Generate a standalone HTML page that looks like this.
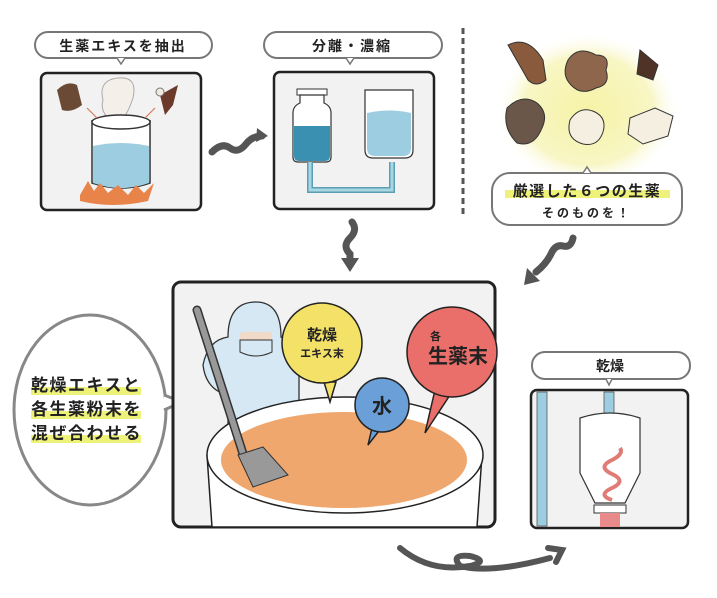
<!DOCTYPE html>
<html><head><meta charset="utf-8"><style>
html,body{margin:0;padding:0;background:#fff;}
svg{display:block;}
text{font-family:"Liberation Sans","Noto Sans CJK JP",sans-serif;font-weight:bold;fill:#222;}
</style></head><body>
<svg width="717" height="598" viewBox="0 0 717 598" xmlns="http://www.w3.org/2000/svg">
<defs>
<radialGradient id="glow" cx="50%" cy="50%" r="50%">
<stop offset="0" stop-color="#f6f3a6"/><stop offset="0.7" stop-color="#f8f6c4"/><stop offset="1" stop-color="#fff" stop-opacity="0"/>
</radialGradient>
</defs>
<!-- Label 1 -->
<rect x="35" y="32" width="177" height="26" rx="13" fill="#fff" stroke="#777" stroke-width="2"/>
<path d="M117 58 l4 6 l4 -6" fill="#fff" stroke="#777" stroke-width="1.5"/>
<text x="123" y="51" font-size="14" text-anchor="middle" letter-spacing="2">生薬エキスを抽出</text>
<!-- Panel 1 -->
<rect x="41" y="73" width="160" height="137" rx="6" fill="#f2f2f2" stroke="#222" stroke-width="2.5"/>
<path d="M103 100 q-5 -20 15 -22 q20 -2 15 20 q-5 15 -10 20 h-15 q-8 -8 -5 -18z" fill="#f5efea" stroke="#aaa" stroke-width="1"/>
<path d="M92 120 v63 q30 10 58 0 v-63" fill="#fff" stroke="#333" stroke-width="1.5"/>
<ellipse cx="121" cy="122" rx="29" ry="7" fill="#fff" stroke="#333" stroke-width="1.5"/>
<path d="M93 146 q28 -6 56 0 v37 q-28 10 -56 0z" fill="#9ccde0"/>
<path d="M80 195 l8 -14 l6 10 l6 -8 l8 10 l10 -8 l10 10 l8 -10 l8 8 l10 -10 l-6 18 q-35 8 -68 0z" fill="#e8844a"/>
<path d="M57 90 q10 -10 20 -5 l5 20 q-10 8 -20 5 z" fill="#6b4a35"/>
<path d="M160 95 l18 -10 l-5 20 l-8 10 z" fill="#6b3a2a"/>
<circle cx="160" cy="92" r="4" fill="#f0eadf" stroke="#777"/>
<path d="M87 108 l10 10 M155 108 l-10 10" stroke="#d97a5a" stroke-width="1.2"/>
<!-- Arrow 1 -->
<path d="M212 152 q10 -10 18 -4 q8 6 16 -4 q6 -8 16 -8" fill="none" stroke="#555" stroke-width="7" stroke-linecap="round"/>
<path d="M257 128 l11 8 l-12 6z" fill="#555"/>
<!-- Label 2 -->
<rect x="264" y="32" width="178" height="26" rx="13" fill="#fff" stroke="#777" stroke-width="2"/>
<path d="M346 58 l4 6 l4 -6" fill="#fff" stroke="#777" stroke-width="1.5"/>
<text x="352" y="51" font-size="14" text-anchor="middle" letter-spacing="2">分離・濃縮</text>
<!-- Panel 2 -->
<rect x="274" y="72" width="160" height="137" rx="6" fill="#f2f2f2" stroke="#222" stroke-width="2.5"/>
<rect x="297" y="89" width="30" height="6" fill="#fff" stroke="#333"/>
<path d="M300 95 v8 q-7 3 -7 10 v44 q0 5 5 5 h28 q5 0 5 -5 v-44 q0 -7 -7 -10 v-8z" fill="#fff" stroke="#333" stroke-width="1.2"/>
<path d="M294 126 h36 v30 q0 5 -5 5 h-26 q-5 0 -5 -5z" fill="#3a90b0"/>
<path d="M365 90 h48 v60 q0 8 -8 8 h-32 q-8 0 -8 -8z" fill="#fff" stroke="#333" stroke-width="1.2"/>
<path d="M367 113 q22 -5 44 0 v35 q0 8 -8 8 h-28 q-8 0 -8 -8z" fill="#9ccde0"/>
<path d="M310 162 v28 h82 v-28" fill="none" stroke="#5c9fb5" stroke-width="6"/>
<path d="M310 162 v28 h82 v-28" fill="none" stroke="#a9d6e3" stroke-width="3"/>
<!-- dashed line -->
<line x1="463" y1="28" x2="463" y2="215" stroke="#555" stroke-width="3" stroke-dasharray="6 4"/>
<!-- herbs -->
<ellipse cx="588" cy="110" rx="92" ry="78" fill="url(#glow)"/>
<path d="M508 45 q20 -10 35 15 l3 20 q-10 8 -18 0 z" fill="#8a5a3c" stroke="#333"/>
<path d="M568 60 q10 -15 28 -5 q15 0 10 15 q5 15 -10 18 q-15 8 -25 -3 q-10 -10 -3 -25z" fill="#8d664b" stroke="#333"/>
<path d="M640 50 l18 15 l-5 15 l-16 -6 z" fill="#4e3326" stroke="#333"/>
<path d="M507 108 q15 -15 30 -5 q12 10 5 25 q-8 20 -25 15 q-15 -15 -10 -35z" fill="#6a574a" stroke="#333"/>
<path d="M570 120 q10 -15 25 -8 q12 6 8 20 q-5 15 -20 12 q-18 -5 -13 -24z" fill="#f4efe0" stroke="#333"/>
<path d="M630 118 l25 -10 l18 8 l-5 20 l-25 8 l-15 -10z" fill="#f4efe0" stroke="#333"/>
<!-- Label herbs -->
<rect x="492" y="173" width="190" height="52" rx="18" fill="#fff" stroke="#777" stroke-width="2"/>
<path d="M583 173 l4 -6 l4 6" fill="#fff" stroke="#777" stroke-width="1.5"/>
<rect x="505" y="190" width="165" height="8" fill="#eef27a"/>
<text x="587" y="196" font-size="15" text-anchor="middle" letter-spacing="1.5">厳選した６つの生薬</text>
<text x="587" y="217" font-size="12" text-anchor="middle" letter-spacing="3">そのものを！</text>
<!-- down arrows -->
<path d="M352 222 q6 8 -2 16 q-8 8 0 16 v8" fill="none" stroke="#555" stroke-width="7" stroke-linecap="round"/>
<path d="M341 258 l9 14 l9 -14z" fill="#555"/>
<path d="M573 238 q-2 10 -10 8 q-8 -2 -12 8 q-5 10 -15 18" fill="none" stroke="#555" stroke-width="7" stroke-linecap="round"/>
<path d="M527 268 l-3 17 l16 -4z" fill="#555"/>
<!-- thought bubble -->
<ellipse cx="90" cy="410" rx="76" ry="95" fill="#fff" stroke="#888" stroke-width="3"/>
<path d="M164 395 l18 7 l-18 8" fill="#fff" stroke="#888" stroke-width="3"/>
<rect x="31" y="387" width="110" height="8" fill="#eef27a"/>
<rect x="31" y="411" width="110" height="8" fill="#eef27a"/>
<rect x="31" y="435" width="110" height="8" fill="#eef27a"/>
<text x="31" y="391" font-size="17" letter-spacing="1.5">乾燥エキスと</text>
<text x="31" y="415" font-size="17" letter-spacing="1.5">各生薬粉末を</text>
<text x="31" y="439" font-size="17" letter-spacing="1.5">混ぜ合わせる</text>
<!-- main panel -->
<rect x="173" y="282" width="322" height="245" rx="8" fill="#f2f2f2" stroke="#222" stroke-width="3"/>
<!-- worker -->
<path d="M228 445 v-50 q-22 -5 -25 -30 q5 -25 25 -28 q0 -35 28 -35 q25 0 25 35 q18 10 18 40 v60z" fill="#d6e8f3" stroke="#333" stroke-width="1.3"/>
<rect x="240" y="332" width="32" height="20" rx="3" fill="#f1d9c8"/>
<path d="M240 340 h32 v12 q-16 8 -32 0z" fill="#d6e8f3" stroke="#333"/>
<!-- bowl -->
<path d="M207 455 l5 72 h265 l5 -72" fill="#fff" stroke="#222" stroke-width="1.5"/>
<ellipse cx="345" cy="455" rx="138" ry="58" fill="#fff" stroke="#222" stroke-width="1.5"/>
<ellipse cx="344" cy="460" rx="123" ry="48" fill="#efa76e"/>
<!-- spatula -->
<path d="M197 310 l48 150" stroke="#333" stroke-width="9" stroke-linecap="round"/>
<path d="M197 310 l48 150" stroke="#999" stroke-width="6" stroke-linecap="round"/>
<path d="M238 455 l25 -8 l25 28 l-35 12z" fill="#999" stroke="#333"/>
<!-- bubbles -->
<path d="M324 382 l6 20 l6 -20z" fill="#f4e268" stroke="#222" stroke-width="1.5"/>
<circle cx="322" cy="343" r="40" fill="#f4e268" stroke="#222" stroke-width="1.5"/>
<text x="322" y="340" font-size="15" text-anchor="middle" font-weight="normal">乾燥</text>
<text x="322" y="357" font-size="11" text-anchor="middle" font-weight="normal">エキス末</text>
<path d="M435 390 l-10 43 l25 -38z" fill="#ea6f6a" stroke="#222" stroke-width="1.5"/>
<circle cx="452" cy="352" r="45" fill="#ea6f6a" stroke="#222" stroke-width="1.5"/>
<text x="430" y="340" font-size="11" font-weight="normal">各</text>
<text x="458" y="363" font-size="20" text-anchor="middle" font-weight="normal">生薬末</text>
<path d="M372 428 l-4 17 l14 -18z" fill="#6b9fd8" stroke="#222" stroke-width="1.5"/>
<circle cx="382" cy="405" r="27" fill="#6b9fd8" stroke="#222" stroke-width="1.5"/>
<text x="382" y="413" font-size="20" text-anchor="middle" font-weight="normal">水</text>
<!-- Label 3 -->
<rect x="532" y="352" width="158" height="27" rx="13" fill="#fff" stroke="#777" stroke-width="2"/>
<path d="M606 379 l3 6 l3 -6" fill="#fff" stroke="#777" stroke-width="1.5"/>
<text x="610" y="371" font-size="14" text-anchor="middle">乾燥</text>
<!-- Panel 3 -->
<rect x="531" y="390" width="157" height="138" rx="6" fill="#f2f2f2" stroke="#222" stroke-width="2.5"/>
<rect x="537" y="392" width="10" height="134" fill="#9ccde0" stroke="#555" stroke-width="0.8"/>
<rect x="604" y="392" width="10" height="22" fill="#9ccde0" stroke="#555" stroke-width="0.8"/>
<path d="M580 418 q30 -10 60 0 v55 l-15 30 h-30 l-15 -30z" fill="#fff" stroke="#333" stroke-width="1.2"/>
<rect x="594" y="505" width="32" height="8" fill="#fff" stroke="#333"/>
<rect x="600" y="513" width="20" height="14" fill="#e8898a"/>
<path d="M612 500 q-15 -5 0 -12 q15 -7 0 -14 q-15 -7 0 -14 q12 -6 8 -12" fill="none" stroke="#e07b76" stroke-width="4"/>
<!-- bottom arrow -->
<path d="M400 548 q30 25 70 18 q20 -5 0 -10 q-20 -2 -10 10 q30 8 90 -8" fill="none" stroke="#555" stroke-width="6" stroke-linecap="round"/>
<path d="M548 548 l14 2 l-6 12" fill="none" stroke="#555" stroke-width="6" stroke-linecap="round"/>
</svg>
</body></html>
